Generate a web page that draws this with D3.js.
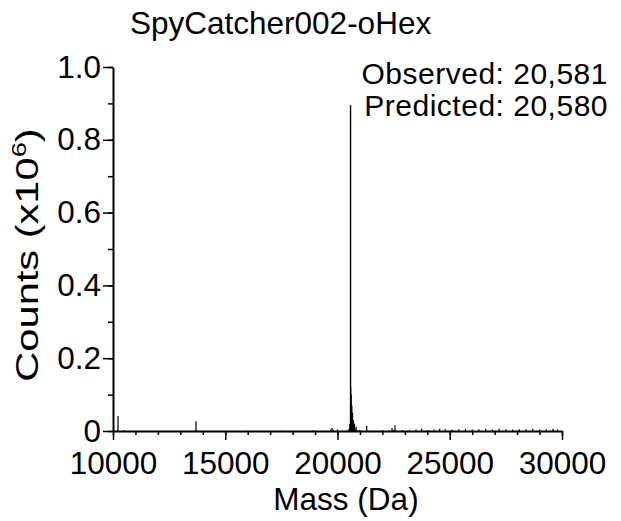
<!DOCTYPE html>
<html>
<head>
<meta charset="utf-8">
<script src="https://cdn.jsdelivr.net/npm/d3@7"></script>
<style>
  html, body { margin: 0; padding: 0; background: #fff; }
  svg { display: block; font-family: "Liberation Sans", Arial, sans-serif; }
</style>
</head>
<body>
<svg id="chart" width="621" height="521"></svg>
<script>
// ---- data ----
const title = "SpyCatcher002-oHex";
const annotations = ["Observed: 20,581", "Predicted: 20,580"];
const xMajorTicks = [10000, 15000, 20000, 25000, 30000];
const yMajorTicks = [0, 0.2, 0.4, 0.6, 0.8, 1.0];
const yTickLabels = ["0", "0.2", "0.4", "0.6", "0.8", "1.0"];
const massDa = [
  10180, 10225, 10500, 11500, 12800, 13680, 13697, 13710, 14600, 16000,
  17500, 18900, 19700, 19760, 19820, 20000, 20200, 20450, 20520, 20550,
  20565, 20581, 20590, 20600, 20610, 20625, 20640, 20655, 20670, 20690,
  20710, 20730, 20760, 20790, 20830, 20880, 21000, 21300, 21600, 22000,
  22300, 22430, 22500, 22560, 22600, 22900, 23200, 23500, 23750, 24000,
  24300, 24550, 24800, 25100, 25400, 25700, 26000, 26300, 26600, 26900,
  27200, 27500, 27800, 28100, 28400, 28700, 29000, 29300, 29600, 29800
];
const countsMillions = [
  0.002, 0.041, 0.002, 0.001, 0.001, 0.003, 0.027, 0.002, 0.001, 0.001,
  0.001, 0.002, 0.005, 0.008, 0.003, 0.004, 0.001, 0.002, 0.006, 0.020,
  0.010, 0.895, 0.120, 0.030, 0.100, 0.020, 0.070, 0.015, 0.050, 0.010,
  0.030, 0.005, 0.020, 0.004, 0.012, 0.002, 0.003, 0.014, 0.002, 0.003,
  0.002, 0.008, 0.003, 0.016, 0.002, 0.003, 0.002, 0.004, 0.006, 0.003,
  0.004, 0.006, 0.005, 0.004, 0.005, 0.006, 0.004, 0.005, 0.006, 0.004,
  0.006, 0.005, 0.004, 0.005, 0.005, 0.006, 0.004, 0.005, 0.006, 0.004
];

// ---- drawing ----
const svg = d3.select("#chart");
const FS = 31.5;

const x = d3.scaleLinear().domain([10000, 30000]).range([113, 562]);
const y = d3.scaleLinear().domain([0, 1]).range([431, 67]);

const spectrum = massDa.map((m, i) => ({ m, c: countsMillions[i] }));

// spectrum sticks
svg.append("g")
  .selectAll("line")
  .data(spectrum)
  .join("line")
  .attr("x1", d => x(d.m)).attr("x2", d => x(d.m))
  .attr("y1", y(0)).attr("y2", d => y(d.c))
  .attr("stroke", "#000")
  .attr("stroke-width", d => d.c > 0.5 ? 1.4 : 1.2);

// x axis: minor ticks
svg.append("g")
  .attr("transform", `translate(0,${y(0)})`)
  .call(d3.axisBottom(x).tickValues(d3.range(10000, 30001, 1000)).tickSize(4).tickFormat(""))
  .call(g => g.select(".domain").remove())
  .call(g => g.selectAll("line").attr("stroke-width", 1.5));

// x axis: major ticks
svg.append("g")
  .attr("transform", `translate(0,${y(0)})`)
  .call(d3.axisBottom(x).tickValues(xMajorTicks).tickSize(9).tickSizeOuter(0).tickPadding(12).tickFormat(d3.format("d")))
  .call(g => g.select(".domain").attr("stroke-width", 2))
  .call(g => g.selectAll("line").attr("stroke-width", 1.5))
  .call(g => g.selectAll("text").attr("font-size", FS).attr("font-family", "Liberation Sans, Arial, sans-serif").attr("fill", "#000"));

// y axis: minor ticks
svg.append("g")
  .attr("transform", `translate(${x(10000)},0)`)
  .call(d3.axisLeft(y).tickValues(d3.range(0, 1.0001, 0.1)).tickSize(5).tickFormat(""))
  .call(g => g.select(".domain").remove())
  .call(g => g.selectAll("line").attr("stroke-width", 1.5));

// y axis: major ticks
svg.append("g")
  .attr("transform", `translate(${x(10000)},0)`)
  .call(d3.axisLeft(y).tickValues(yMajorTicks).tickSize(10).tickSizeOuter(0).tickPadding(2)
    .tickFormat((d, i) => yTickLabels[i]))
  .call(g => g.select(".domain").attr("stroke-width", 2))
  .call(g => g.selectAll("line").attr("stroke-width", 1.5))
  .call(g => g.selectAll("text").attr("font-size", FS).attr("font-family", "Liberation Sans, Arial, sans-serif").attr("fill", "#000"));

// title
svg.append("text")
  .attr("x", 130).attr("y", 34)
  .attr("font-size", FS)
  .text(title);

// annotations
svg.append("g").selectAll("text")
  .data(annotations)
  .join("text")
  .attr("x", 608)
  .attr("y", (d, i) => 84 + i * 32)
  .attr("text-anchor", "end")
  .attr("font-size", 30)
  .attr("letter-spacing", 0.5)
  .text(d => d);

// x label
svg.append("text")
  .attr("x", 346).attr("y", 510)
  .attr("text-anchor", "middle")
  .attr("font-size", FS)
  .text("Mass (Da)");

// y label with superscript
const yl = svg.append("text")
  .attr("transform", "translate(38,255) rotate(-90) scale(1.3,1)")
  .attr("text-anchor", "middle")
  .attr("font-size", 32);
yl.append("tspan").text("Counts (x10");
yl.append("tspan").attr("font-size", 21).attr("dy", -12).text("6");
yl.append("tspan").attr("dy", 12).text(")");
</script>
</body>
</html>
